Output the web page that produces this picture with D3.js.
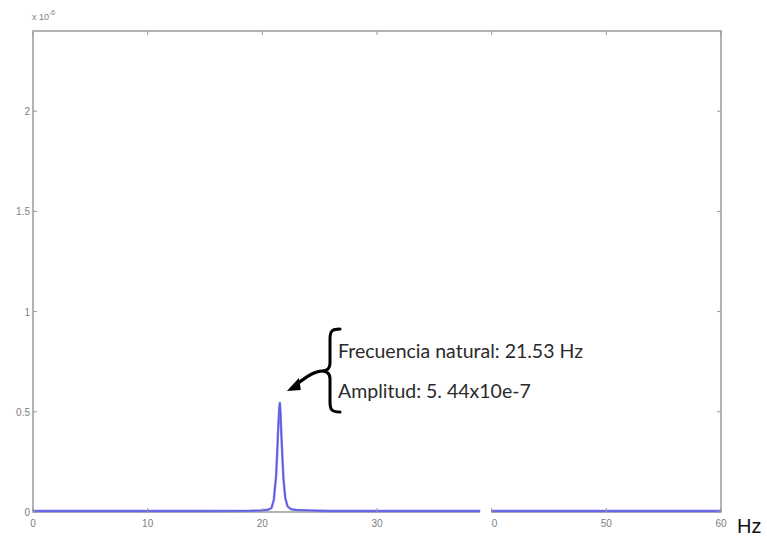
<!DOCTYPE html>
<html><head><meta charset="utf-8">
<script src="https://cdn.jsdelivr.net/npm/d3@7"></script>
<style>body{margin:0;background:#fff}svg{display:block}</style>
</head><body>
<svg id="c" width="767" height="538"></svg>
<script>
// Data (amplitude in units of 1e-6)
const freqHz = [0, 5, 10, 15, 19, 20, 20.5, 20.8, 21.0, 21.2, 21.3, 21.4, 21.48, 21.53, 21.58, 21.65, 21.75, 21.85, 22.0, 22.2, 22.5, 23, 24, 25, 26, 30, 35, 39, 41, 45, 50, 55, 60];
const amplitude = [0.005, 0.005, 0.005, 0.005, 0.006, 0.008, 0.011, 0.02, 0.06, 0.18, 0.3, 0.44, 0.52, 0.544, 0.5, 0.4, 0.27, 0.16, 0.07, 0.028, 0.014, 0.01, 0.008, 0.006, 0.005, 0.005, 0.005, 0.005, 0.005, 0.005, 0.005, 0.005, 0.005];
const xTicks = [0, 10, 20, 30, 40, 50, 60];
const yTicks = [0, 0.5, 1, 1.5, 2];
const annotationLines = ["Frecuencia natural: 21.53 Hz", "Amplitud: 5. 44x10e-7"];
const peakFreq = 21.53, peakAmp = 0.544;

const svg = d3.select("#c");
const L = 33, R = 721, T = 31, B = 512;
const x = d3.scaleLinear().domain([0, 60]).range([L, R]);
const y = d3.scaleLinear().domain([0, 2.4]).range([B, T]);
const gray = "#9a9a9a", labelCol = "#808080";

// frame
svg.append("rect").attr("x", L).attr("y", T).attr("width", R - L).attr("height", B - T)
  .attr("fill", "none").attr("stroke", gray).attr("stroke-width", 1.5);

// data line
const line = d3.line().x(d => x(d[0])).y(d => y(d[1]));
const pts = freqHz.map((f, i) => [f, amplitude[i]]);
svg.append("path").datum(pts).attr("d", line).attr("fill", "none")
  .attr("stroke", "#7a7af0").attr("stroke-width", 2.4).attr("stroke-linejoin", "round");
svg.append("path").datum(pts).attr("d", line).attr("fill", "none")
  .attr("stroke", "#5858d8").attr("stroke-width", 1).attr("stroke-linejoin", "round");

// white gap patch just left of 40
svg.append("rect").attr("x", x(39.0)).attr("y", B - 8).attr("width", x(40) - 0.5 - x(39.0)).attr("height", 26).attr("fill", "#fff");

// ticks inward + labels
const tk = 4;
xTicks.forEach(v => {
  svg.append("line").attr("x1", x(v)).attr("x2", x(v)).attr("y1", B).attr("y2", B - tk).attr("stroke", gray);
  svg.append("line").attr("x1", x(v)).attr("x2", x(v)).attr("y1", T).attr("y2", T + tk).attr("stroke", gray);
  svg.append("text").attr("x", x(v)).attr("y", B + 15).attr("text-anchor", "middle")
    .attr("font-family", "Liberation Sans, Arial").attr("font-size", 10).attr("fill", labelCol).text(v);
});
// re-cover the hidden part of the "40" label
svg.append("rect").attr("x", x(39.0)).attr("y", B + 3).attr("width", x(40) - 0.5 - x(39.0)).attr("height", 15).attr("fill", "#fff");

yTicks.forEach(v => {
  svg.append("line").attr("x1", L).attr("x2", L + tk).attr("y1", y(v)).attr("y2", y(v)).attr("stroke", gray);
  svg.append("line").attr("x1", R).attr("x2", R - tk).attr("y1", y(v)).attr("y2", y(v)).attr("stroke", gray);
  svg.append("text").attr("x", L - 3).attr("y", y(v) + 4).attr("text-anchor", "end")
    .attr("font-family", "Liberation Sans, Arial").attr("font-size", 10).attr("fill", labelCol).text(v);
});

// exponent label
const ex = svg.append("text").attr("x", L - 1).attr("y", T - 11)
  .attr("font-family", "Liberation Sans, Arial").attr("font-size", 9).attr("fill", labelCol);
ex.append("tspan").text("x 10");
ex.append("tspan").attr("dy", -5).attr("font-size", 7).text("-6");

// Hz label
svg.append("text").attr("x", 737).attr("y", 533).attr("font-family", "Liberation Sans, Arial")
  .attr("font-size", 20).attr("fill", "#111").text("Hz");

// annotation brace
const bx = 330, by0 = 329, by1 = 412, bm = 371;
const brace = `M ${bx + 10} ${by0} C ${bx + 2} ${by0} ${bx} ${by0 + 2} ${bx} ${by0 + 10} L ${bx} ${bm - 8} C ${bx} ${bm - 2} ${bx - 4} ${bm} ${bx - 8} ${bm} C ${bx - 4} ${bm} ${bx} ${bm + 2} ${bx} ${bm + 8} L ${bx} ${by1 - 10} C ${bx} ${by1 - 2} ${bx + 2} ${by1} ${bx + 10} ${by1}`;
svg.append("path").attr("d", brace).attr("fill", "none").attr("stroke", "#000").attr("stroke-width", 3).attr("stroke-linecap", "round");
// arrow
const ax = x(peakFreq) + 10, ay = y(peakAmp) - 14;
svg.append("path").attr("d", `M ${bx - 8} ${bm} C ${bx - 18} ${bm} ${ax + 12} ${ay - 8} ${ax + 4} ${ay - 3}`)
  .attr("fill", "none").attr("stroke", "#000").attr("stroke-width", 3.2);
svg.append("path").attr("d", `M ${ax - 3} ${ay + 2} L ${ax + 9} ${ay - 11} L ${ax + 11} ${ay + 1} Z`).attr("fill", "#000");

// annotation text
annotationLines.forEach((t, i) => {
  svg.append("text").attr("x", 338).attr("y", 358 + i * 40).attr("font-family", "Lato, Open Sans, sans-serif")
    .attr("font-size", 19.5).attr("fill", "#2a2a2a").text(t);
});
</script>
</body></html>
